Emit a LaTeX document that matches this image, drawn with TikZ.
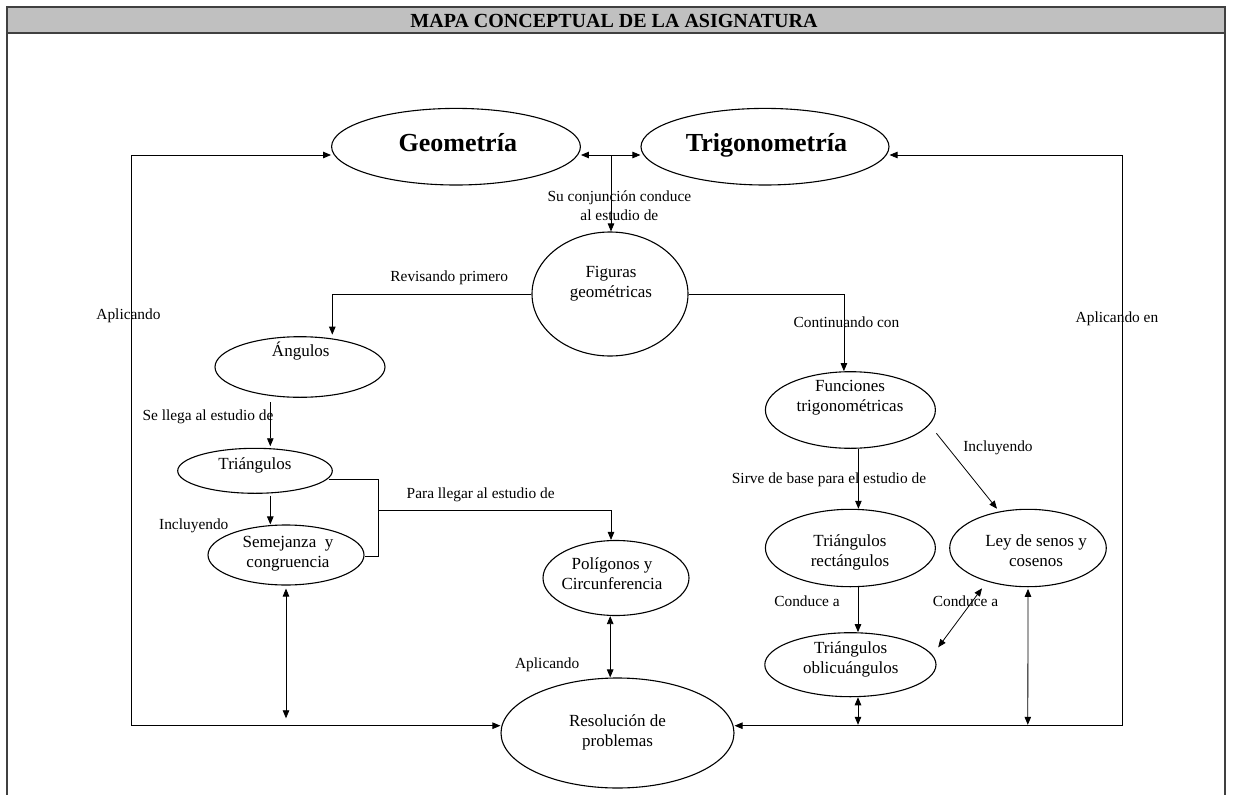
\documentclass[tikz,border=0pt]{standalone}
\usepackage{fontspec}
\setmainfont{Liberation Serif}
\usetikzlibrary{shapes.geometric,arrows.meta,calc}
\definecolor{hdrgray}{HTML}{C0C0C0}
\definecolor{framegray}{HTML}{404040}
\tikzset{
  ell/.style={draw=black, line width=1.1pt, ellipse, inner sep=0pt},
  ntext/.style={font=\fontsize{17}{20}\selectfont, align=center, inner sep=0pt},
  lbl/.style={font=\fontsize{15.4}{18.4}\selectfont, align=center, inner sep=0pt},
  bigt/.style={font=\fontsize{26}{30}\selectfont\bfseries, inner sep=0pt, anchor=base},
  conn/.style={line width=0.8pt, draw=black},
  >={Triangle[length=8pt,width=6.5pt]},
}
\begin{document}
\begin{tikzpicture}[x=1pt,y=-1pt]
\useasboundingbox (0,0) rectangle (1243,795);
% frame and header
\fill[hdrgray] (7,7) rectangle (1225,32.5);
\draw[framegray, line width=2pt] (7,795) -- (7,7) -- (1225,7) -- (1225,795);
\draw[framegray, line width=2pt] (7,32.5) -- (1225,32.5);
\node[font=\fontsize{20}{24}\selectfont\bfseries, anchor=base, inner sep=0pt] (title) at (614,27.5) {MAPA CONCEPTUAL DE LA ASIGNATURA};

% ellipses
\node[ell, minimum width=248.8pt, minimum height=76.6pt] (geo) at (456,146.7) {};
\node[ell, minimum width=248pt, minimum height=76.6pt] (trig) at (765,146.7) {};
\node[ell, minimum width=156pt, minimum height=124pt] (fig) at (610,294) {};
\node[ell, minimum width=170pt, minimum height=60.6pt] (ang) at (300,367) {};
\node[ell, minimum width=154.6pt, minimum height=45pt] (tri) at (255,470.8) {};
\node[ell, minimum width=156pt, minimum height=60pt] (sem) at (286,555) {};
\node[ell, minimum width=146pt, minimum height=75pt] (pol) at (616,578) {};
\node[ell, minimum width=233pt, minimum height=110pt] (res) at (617.5,733) {};
\node[ell, minimum width=170pt, minimum height=76.6pt] (fun) at (850.4,410) {};
\node[ell, minimum width=170pt, minimum height=77.4pt] (rec) at (850.4,548) {};
\node[ell, minimum width=156.6pt, minimum height=77.4pt] (ley) at (1028,548) {};
\node[ell, minimum width=171.2pt, minimum height=64pt] (obl) at (850.4,664.7) {};

% node texts
\node[bigt] (geot) at (457.8,151.7) {Geometría};
\node[bigt] (trigt) at (766.5,151.7) {Trigonometría};
\node[ntext] (figt) at (611,283.3) {\strut Figuras\\\strut geométricas};
\node[ntext] (angt) at (300.8,352.7) {\strut Ángulos};
\node[ntext] (trit) at (255,465) {\strut Triángulos};
\node[ntext] (semt) at (288,553) {\strut Semejanza\ \ y\\\strut congruencia};
\node[ntext] (polt) at (612,575.8) {\strut Polígonos y\\\strut Circunferencia};
\node[ntext] (funt) at (850,397.3) {\strut Funciones\\\strut trigonométricas};
\node[ntext] (rect) at (850,552.7) {\strut Triángulos\\\strut rectángulos};
\node[ntext] (leyt) at (1036,552.7) {\strut Ley de senos y\\\strut cosenos};
\node[ntext] (oblt) at (850.7,659.7) {\strut Triángulos\\\strut oblicuángulos};
\node[ntext] (rest) at (617.5,732.7) {\strut Resolución de\\\strut problemas};

% labels
\node[lbl] (l1) at (619.4,207.5) {\strut Su conjunción conduce\\\strut al estudio de};
\node[lbl] (l2) at (449.2,278) {\strut Revisando primero};
\node[lbl] (l3) at (128.5,316) {\strut Aplicando};
\node[lbl] (l4) at (208,416.7) {\strut Se llega al estudio de};
\node[lbl] (l5) at (193.8,526) {\strut Incluyendo};
\node[lbl] (l6) at (480.7,495) {\strut Para llegar al estudio de};
\node[lbl] (l7) at (547.2,665) {\strut Aplicando};
\node[lbl] (l8) at (846.5,324) {\strut Continuando con};
\node[lbl] (l9) at (1117,319.3) {\strut Aplicando en};
\node[lbl] (l10) at (829,480) {\strut Sirve de base para el estudio de};
\node[lbl] (l11) at (998,448.3) {\strut Incluyendo};
\node[lbl] (l12) at (807,603.3) {\strut Conduce a};
\node[lbl] (l13) at (965.5,603.3) {\strut Conduce a};

% junction coordinates
\coordinate (ltop) at (131.4,155);
\coordinate (lbot) at (131.4,725.7);
\coordinate (rtop) at (1122,155);
\coordinate (rbot) at (1122,725.7);
\coordinate (jn) at (611,155);
\coordinate (bk1) at (378.6,479);
\coordinate (bk2) at (378.6,556);
\coordinate (bk3) at (378.6,510);
\coordinate (semb) at (286,718.3);
\coordinate (oblb) at (858,724.8);
\coordinate (leyb) at (1027.8,724.8);

% connectors
\draw[conn,<->] (geo.west|-ltop) -- (ltop) -- (lbot) -- (res.west|-lbot);
\draw[conn,<->] (trig.east|-rtop) -- (rtop) -- (rbot) -- (res.east|-rbot);
\draw[conn,<->] (geo.east|-jn) -- (trig.west|-jn);
\draw[conn,->] (jn) -- (jn|-fig.north);
\draw[conn,->] (fig.west) -| ($(ang.north)+(32.3,-1.5)$);
\draw[conn,->] (fig.east) -| ($(fun.north)+(-6.5,0)$);
\draw[conn,->] ($(ang.south)+(-29.7,4.4)$) -- ($(tri.north)+(15.3,-1.5)$);
\draw[conn,->] ($(tri.south)+(15.3,1.7)$) -- ($(sem.north)+(-15.7,0)$);
\draw[conn] ($(tri.east)+(-4,8.2)$) -- (bk1) -- (bk2) -- (sem.east|-bk2);
\draw[conn,->] (bk3) -| ($(pol.north)+(-5,0)$);
\draw[conn,<->] ($(sem.south)+(0,3)$) -- (semb);
\draw[conn,<->] ($(pol.south)+(-5.8,0)$) -- ($(res.north)+(-7.3,0)$);
\draw[conn,->] ($(fun.south)+(8,0)$) -- ($(rec.north)+(8,0)$);
\draw[conn,->] ($(fun.center)+(86,23.3)$) -- ($(ley.north)+(-31,0)$);
\draw[conn,->] ($(rec.south)+(7.6,0)$) -- ($(obl.north)+(7.6,0)$);
\draw[conn,<->] ($(obl.center)+(87.8,-17.4)$) -- ($(ley.center)+(-46,40.3)$);
\draw[conn,<->] ($(obl.south)+(7.6,0)$) -- (oblb);
\draw[conn,<->] ($(ley.south)+(0,1.6)$) -- (leyb);
\end{tikzpicture}
\end{document}
